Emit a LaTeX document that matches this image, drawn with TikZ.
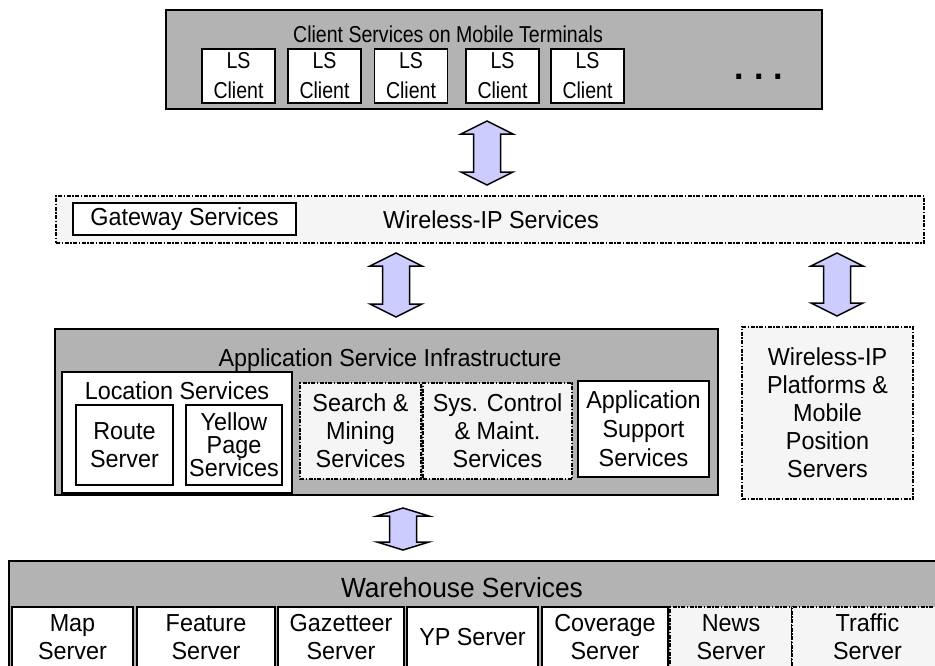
\documentclass[tikz,border=0pt]{standalone}
\usepackage{fontspec}
\setmainfont{Liberation Sans}[FakeStretch=0.95]
\newfontfamily\narrowsans{Liberation Sans}[FakeStretch=0.85]
\usetikzlibrary{calc}

\definecolor{layergray}{RGB}{179,179,179}
\definecolor{palegray}{RGB}{245,245,245}
\definecolor{arrowblue}{RGB}{204,204,255}

\tikzset{
	layer/.style={draw=black, fill=layergray, line width=1.5pt, inner sep=0pt},
	solidbox/.style={draw=black, fill=white, line width=1.5pt, inner sep=0pt, align=center},
	dashbox/.style={draw=black, fill=palegray, line width=1.5pt, inner sep=0pt, align=center,
		dash pattern=on 4pt off 1.5pt on 1.5pt off 1.5pt},
	title/.style={anchor=base, inner sep=0pt},
	clientfont/.style={font=\narrowsans\fontsize{23}{30}\selectfont},
	blockarrow/.style={draw=black, fill=arrowblue, line width=1.5pt, line join=miter},
}

% up-down block arrow between two named tips
\newcommand{\updown}[3]{%
	\draw[blockarrow] (#1) -- ($(#1)+(26,#3)$) -- ($(#1)+(13.5,#3)$) -- ($(#2)+(13.5,-#3)$)
		-- ($(#2)+(26,-#3)$) -- (#2) -- ($(#2)+(-26,-#3)$) -- ($(#2)+(-13.5,-#3)$)
		-- ($(#1)+(-13.5,#3)$) -- ($(#1)+(-26,#3)$) -- cycle;}

\begin{document}
\begin{tikzpicture}[x=1pt, y=-1pt, font=\fontsize{24.6}{28}\selectfont]
	\useasboundingbox (0,0) rectangle (935,665);

	% client layer
	\node[layer, minimum width=656, minimum height=99] (client) at (494, 59.5) {};
	\node[title, clientfont] (clienttitle) at (448, 42) {Client Services on Mobile Terminals};
	\node[solidbox, clientfont, minimum width=73, minimum height=54] (ls1) at (238.5, 76) {LS\\Client};
	\node[solidbox, clientfont, minimum width=73, minimum height=54] (ls2) at (324.5, 76) {LS\\Client};
	\node[solidbox, clientfont, minimum width=73, minimum height=54] (ls3) at (411, 76)   {LS\\Client};
	\node[solidbox, clientfont, minimum width=73, minimum height=54] (ls4) at (502.5, 76) {LS\\Client};
	\node[solidbox, clientfont, minimum width=73, minimum height=54] (ls5) at (587.5, 76) {LS\\Client};
	\node[title] (more) at (759, 79) {\fontsize{36}{36}\selectfont\textbf{.\hspace{10pt}.\hspace{10pt}.}};

	% wireless-IP band
	\node[dashbox, minimum width=868, minimum height=47] (wip) at (490, 219.5) {};
	\node[solidbox, minimum width=223, minimum height=32] (gateway) at (184.5, 219) {Gateway Services};
	\node[title] (wiptitle) at (491, 228) {Wireless-IP Services};

	% application layer
	\node[layer, minimum width=663, minimum height=166] (app) at (386.5, 412) {};
	\node[title] (apptitle) at (390, 366) {Application Service Infrastructure};
	\node[solidbox, minimum width=230, minimum height=121] (loc) at (177, 432.5) {};
	\node[title] (loctitle) at (177, 399) {Location Services};
	\node[solidbox, minimum width=97, minimum height=80] (route) at (124.5, 445) {Route\\Server};
	\node[solidbox, minimum width=96, minimum height=80, font=\fontsize{24.6}{23}\selectfont] (yellow) at (234, 445) {Yellow\\Page\\Services};
	\node[dashbox, minimum width=121, minimum height=96] (search) at (360.5, 431) {Search \&\\Mining\\Services};
	\node[dashbox, minimum width=149, minimum height=96] (sysctl) at (497.5, 431) {Sys. Control\\\& Maint.\\Services};
	\node[solidbox, minimum width=131, minimum height=96, font=\fontsize{24.6}{29}\selectfont] (support) at (643.5, 429) {Application\\Support\\Services};
	\node[dashbox, minimum width=171, minimum height=172] (platforms) at (827.5, 413) {Wireless-IP\\Platforms \&\\Mobile\\Position\\Servers};

	% warehouse layer
	\node[layer, minimum width=941, minimum height=120] (ware) at (479.5, 621) {};
	\node[title, font=\fontsize{27.7}{30}\selectfont] (waretitle) at (462, 597) {Warehouse Services};
	\node[solidbox, minimum width=121, minimum height=60] (map) at (72.5, 637) {Map\\Server};
	\node[solidbox, minimum width=138, minimum height=60] (feature) at (206, 637) {Feature\\Server};
	\node[solidbox, minimum width=126, minimum height=60] (gazetteer) at (341, 637) {Gazetteer\\Server};
	\node[solidbox, minimum width=131, minimum height=60] (yp) at (472.5, 637) {YP Server};
	\node[solidbox, minimum width=126, minimum height=60] (coverage) at (605, 637) {Coverage\\Server};
	\node[dashbox, minimum width=122, minimum height=60] (news) at (731, 637) {News\\Server};
	\node[dashbox, minimum width=151, minimum height=60] (traffic) at (867.5, 637) {Traffic\\Server};

	% block arrows
	\coordinate (a1t) at (487, 121);
	\coordinate (a1b) at (487, 185);
	\coordinate (a2t) at (396, 253);
	\coordinate (a2b) at (396, 317);
	\coordinate (a3t) at (837, 253);
	\coordinate (a3b) at (837, 316);
	\coordinate (a4t) at (403, 508);
	\coordinate (a4b) at (403, 550);
	\updown{a1t}{a1b}{13}
	\updown{a2t}{a2b}{13}
	\updown{a3t}{a3b}{13}
	\updown{a4t}{a4b}{8}
\end{tikzpicture}
\end{document}
